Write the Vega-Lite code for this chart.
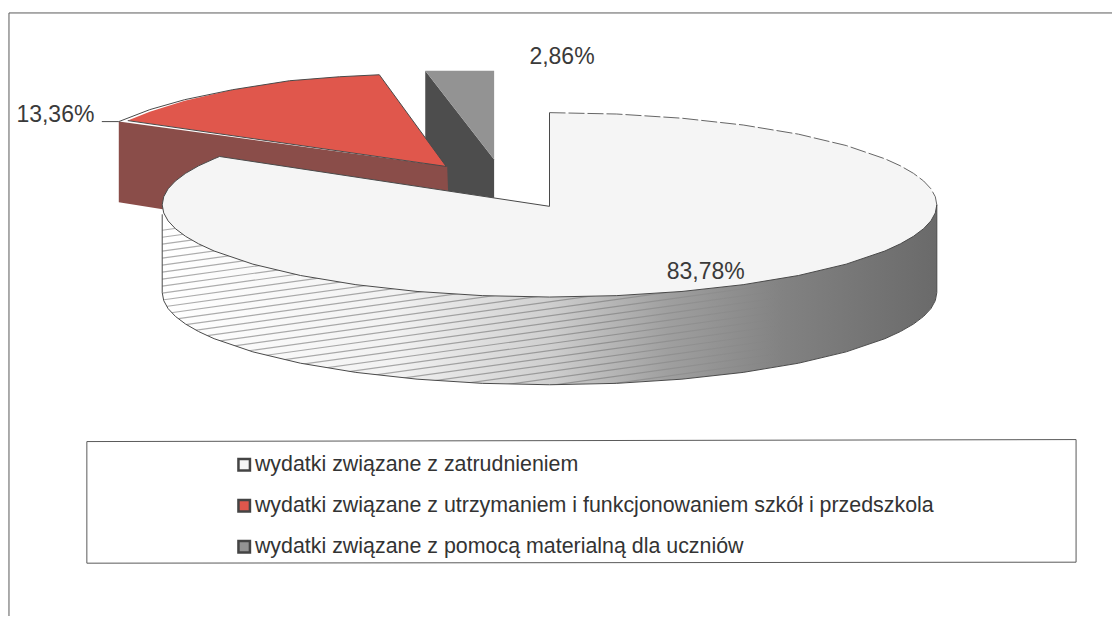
{
"$schema":"https://vega.github.io/schema/vega-lite/v6.json",
"width":1114,"height":618,
"autosize":{"type":"fit","contains":"padding"},
"padding":0,
"background":"#ffffff",
"config":{"view":{"stroke":null}},
"datasets":{
"walls":[
{"part":"graywall","seq":1,"x":426,"y":71},{"part":"graywall","seq":2,"x":495,"y":160},{"part":"graywall","seq":3,"x":495,"y":199},{"part":"graywall","seq":4,"x":426,"y":195},
{"part":"redwall","seq":1,"x":119,"y":122},{"part":"redwall","seq":2,"x":448,"y":167},{"part":"redwall","seq":3,"x":449,"y":195},{"part":"redwall","seq":4,"x":300,"y":195},{"part":"redwall","seq":5,"x":163,"y":210},{"part":"redwall","seq":6,"x":119,"y":203},
{"part":"bigwall","seq":1,"x":162.5,"y":205.5},{"part":"bigwall","seq":2,"x":938.5,"y":205.5},{"part":"bigwall","seq":3,"x":938.5,"y":293.5},{"part":"bigwall","seq":3.5,"x":937,"y":301.6},{"part":"bigwall","seq":4,"x":932.6,"y":309.6},{"part":"bigwall","seq":4.5,"x":925.3,"y":317.4},{"part":"bigwall","seq":5,"x":915.1,"y":325.1},{"part":"bigwall","seq":5.5,"x":902.1,"y":332.6},{"part":"bigwall","seq":6,"x":886.5,"y":339.8},{"part":"bigwall","seq":7,"x":847.7,"y":353},{"part":"bigwall","seq":8,"x":799.9,"y":364.4},{"part":"bigwall","seq":9,"x":744.5,"y":373.6},{"part":"bigwall","seq":10,"x":683.2,"y":380.4},{"part":"bigwall","seq":11,"x":617.9,"y":384.6},{"part":"bigwall","seq":12,"x":550.5,"y":386},{"part":"bigwall","seq":13,"x":483.1,"y":384.6},{"part":"bigwall","seq":14,"x":417.8,"y":380.4},{"part":"bigwall","seq":15,"x":356.5,"y":373.6},{"part":"bigwall","seq":16,"x":301.1,"y":364.4},{"part":"bigwall","seq":17,"x":253.3,"y":353},{"part":"bigwall","seq":18,"x":214.5,"y":339.8},{"part":"bigwall","seq":18.5,"x":198.9,"y":332.6},{"part":"bigwall","seq":19,"x":185.9,"y":325.1},{"part":"bigwall","seq":19.5,"x":175.7,"y":317.4},{"part":"bigwall","seq":20,"x":168.4,"y":309.6},{"part":"bigwall","seq":20.5,"x":164,"y":301.6},{"part":"bigwall","seq":21,"x":162.5,"y":293.5}
],
"mask":[
{"seq":1,"x":938.5,"y":293.5},{"seq":1.5,"x":937,"y":301.6},{"seq":2,"x":932.6,"y":309.6},{"seq":2.5,"x":925.3,"y":317.4},{"seq":3,"x":915.1,"y":325.1},{"seq":3.5,"x":902.1,"y":332.6},{"seq":4,"x":886.5,"y":339.8},{"seq":5,"x":847.7,"y":353},{"seq":6,"x":799.9,"y":364.4},{"seq":7,"x":744.5,"y":373.6},{"seq":8,"x":683.2,"y":380.4},{"seq":9,"x":617.9,"y":384.6},{"seq":10,"x":550.5,"y":386},{"seq":11,"x":483.1,"y":384.6},{"seq":12,"x":417.8,"y":380.4},{"seq":13,"x":356.5,"y":373.6},{"seq":14,"x":301.1,"y":364.4},{"seq":15,"x":253.3,"y":353},{"seq":16,"x":214.5,"y":339.8},{"seq":16.5,"x":198.9,"y":332.6},{"seq":17,"x":185.9,"y":325.1},{"seq":17.5,"x":175.7,"y":317.4},{"seq":18,"x":168.4,"y":309.6},{"seq":18.5,"x":164,"y":301.6},{"seq":19,"x":162.5,"y":293.5},{"seq":20,"x":160,"y":293.5},{"seq":21,"x":160,"y":470},{"seq":22,"x":940,"y":470},{"seq":23,"x":940,"y":293.5}
],
"notch":[
{"seq":1,"x":150,"y":60},{"seq":2,"x":550.5,"y":60},{"seq":3,"x":550.5,"y":207},{"seq":4,"x":220,"y":157},{"seq":5,"x":150,"y":200}
],
"stripes":[
{"x":162.5,"x2":800,"y":231,"y2":142},{"x":162.5,"x2":800,"y":238,"y2":149},{"x":162.5,"x2":800,"y":245,"y2":156},{"x":162.5,"x2":800,"y":252,"y2":163},{"x":162.5,"x2":800,"y":259,"y2":170},{"x":162.5,"x2":800,"y":266,"y2":177},{"x":162.5,"x2":800,"y":273,"y2":184},{"x":162.5,"x2":800,"y":280,"y2":191},{"x":162.5,"x2":800,"y":287,"y2":198},{"x":162.5,"x2":800,"y":294,"y2":205},{"x":162.5,"x2":800,"y":301,"y2":212},{"x":162.5,"x2":800,"y":308,"y2":219},{"x":162.5,"x2":800,"y":315,"y2":226},{"x":162.5,"x2":800,"y":322,"y2":233},{"x":162.5,"x2":800,"y":329,"y2":240},{"x":162.5,"x2":800,"y":336,"y2":247},{"x":162.5,"x2":800,"y":343,"y2":254},{"x":162.5,"x2":800,"y":350,"y2":261},{"x":162.5,"x2":800,"y":357,"y2":268},{"x":162.5,"x2":800,"y":364,"y2":275},{"x":162.5,"x2":800,"y":371,"y2":282},{"x":162.5,"x2":800,"y":378,"y2":289},{"x":162.5,"x2":800,"y":385,"y2":296},{"x":162.5,"x2":800,"y":392,"y2":303},{"x":162.5,"x2":800,"y":399,"y2":310},{"x":162.5,"x2":800,"y":406,"y2":317},{"x":162.5,"x2":800,"y":413,"y2":324},{"x":162.5,"x2":800,"y":420,"y2":331},{"x":162.5,"x2":800,"y":427,"y2":338},{"x":162.5,"x2":800,"y":434,"y2":345},{"x":162.5,"x2":800,"y":441,"y2":352},{"x":162.5,"x2":800,"y":448,"y2":359},{"x":162.5,"x2":800,"y":455,"y2":366}
],
"tops":[
{"category":"wydatki związane z zatrudnieniem","seq":1,"x":550.5,"y":207},{"category":"wydatki związane z zatrudnieniem","seq":2,"x":550.5,"y":113},{"category":"wydatki związane z zatrudnieniem","seq":3,"x":617.9,"y":114.4},{"category":"wydatki związane z zatrudnieniem","seq":4,"x":683.2,"y":118.6},{"category":"wydatki związane z zatrudnieniem","seq":5,"x":744.5,"y":125.4},{"category":"wydatki związane z zatrudnieniem","seq":6,"x":799.9,"y":134.6},{"category":"wydatki związane z zatrudnieniem","seq":7,"x":847.7,"y":146},{"category":"wydatki związane z zatrudnieniem","seq":8,"x":886.5,"y":159.3},{"category":"wydatki związane z zatrudnieniem","seq":8.5,"x":902.1,"y":166.4},{"category":"wydatki związane z zatrudnieniem","seq":9,"x":915.1,"y":173.9},{"category":"wydatki związane z zatrudnieniem","seq":9.5,"x":925.3,"y":181.6},{"category":"wydatki związane z zatrudnieniem","seq":10,"x":932.6,"y":189.4},{"category":"wydatki związane z zatrudnieniem","seq":10.5,"x":937,"y":197.4},{"category":"wydatki związane z zatrudnieniem","seq":11,"x":938.5,"y":205.5},{"category":"wydatki związane z zatrudnieniem","seq":11.5,"x":937,"y":213.6},{"category":"wydatki związane z zatrudnieniem","seq":12,"x":932.6,"y":221.6},{"category":"wydatki związane z zatrudnieniem","seq":12.5,"x":925.3,"y":229.4},{"category":"wydatki związane z zatrudnieniem","seq":13,"x":915.1,"y":237.1},{"category":"wydatki związane z zatrudnieniem","seq":13.5,"x":902.1,"y":244.6},{"category":"wydatki związane z zatrudnieniem","seq":14,"x":886.5,"y":251.8},{"category":"wydatki związane z zatrudnieniem","seq":15,"x":847.7,"y":265},{"category":"wydatki związane z zatrudnieniem","seq":16,"x":799.9,"y":276.4},{"category":"wydatki związane z zatrudnieniem","seq":17,"x":744.5,"y":285.6},{"category":"wydatki związane z zatrudnieniem","seq":18,"x":683.2,"y":292.4},{"category":"wydatki związane z zatrudnieniem","seq":19,"x":617.9,"y":296.6},{"category":"wydatki związane z zatrudnieniem","seq":20,"x":550.5,"y":298},{"category":"wydatki związane z zatrudnieniem","seq":21,"x":483.1,"y":296.6},{"category":"wydatki związane z zatrudnieniem","seq":22,"x":417.8,"y":292.4},{"category":"wydatki związane z zatrudnieniem","seq":23,"x":356.5,"y":285.6},{"category":"wydatki związane z zatrudnieniem","seq":24,"x":301.1,"y":276.4},{"category":"wydatki związane z zatrudnieniem","seq":25,"x":253.3,"y":265},{"category":"wydatki związane z zatrudnieniem","seq":26,"x":214.5,"y":251.8},{"category":"wydatki związane z zatrudnieniem","seq":26.5,"x":198.9,"y":244.6},{"category":"wydatki związane z zatrudnieniem","seq":27,"x":185.9,"y":237.1},{"category":"wydatki związane z zatrudnieniem","seq":27.5,"x":175.7,"y":229.4},{"category":"wydatki związane z zatrudnieniem","seq":28,"x":168.4,"y":221.6},{"category":"wydatki związane z zatrudnieniem","seq":28.5,"x":164,"y":213.6},{"category":"wydatki związane z zatrudnieniem","seq":29,"x":162.5,"y":205.5},{"category":"wydatki związane z zatrudnieniem","seq":29.5,"x":164,"y":197.4},{"category":"wydatki związane z zatrudnieniem","seq":30,"x":168.4,"y":189.4},{"category":"wydatki związane z zatrudnieniem","seq":30.5,"x":175.7,"y":181.6},{"category":"wydatki związane z zatrudnieniem","seq":31,"x":185.9,"y":173.9},{"category":"wydatki związane z zatrudnieniem","seq":31.5,"x":198.9,"y":166.4},{"category":"wydatki związane z zatrudnieniem","seq":32,"x":214.5,"y":159.3},{"category":"wydatki związane z zatrudnieniem","seq":33,"x":220,"y":157},
{"category":"wydatki związane z utrzymaniem i funkcjonowaniem szkół i przedszkola","seq":1,"x":128,"y":121},{"category":"wydatki związane z utrzymaniem i funkcjonowaniem szkół i przedszkola","seq":2,"x":150,"y":112},{"category":"wydatki związane z utrzymaniem i funkcjonowaniem szkół i przedszkola","seq":3,"x":185,"y":101},{"category":"wydatki związane z utrzymaniem i funkcjonowaniem szkół i przedszkola","seq":4,"x":233,"y":90},{"category":"wydatki związane z utrzymaniem i funkcjonowaniem szkół i przedszkola","seq":5,"x":290,"y":81},{"category":"wydatki związane z utrzymaniem i funkcjonowaniem szkół i przedszkola","seq":6,"x":340,"y":77},{"category":"wydatki związane z utrzymaniem i funkcjonowaniem szkół i przedszkola","seq":7,"x":380,"y":75},{"category":"wydatki związane z utrzymaniem i funkcjonowaniem szkół i przedszkola","seq":8,"x":447,"y":167},
{"category":"wydatki związane z pomocą materialną dla uczniów","seq":1,"x":426,"y":71},{"category":"wydatki związane z pomocą materialną dla uczniów","seq":2,"x":495,"y":71},{"category":"wydatki związane z pomocą materialną dla uczniów","seq":3,"x":495,"y":160}
],
"edges":[
{"edge":"front","seq":1,"x":938.5,"y":205.5},{"edge":"front","seq":1.5,"x":937,"y":213.6},{"edge":"front","seq":2,"x":932.6,"y":221.6},{"edge":"front","seq":2.5,"x":925.3,"y":229.4},{"edge":"front","seq":3,"x":915.1,"y":237.1},{"edge":"front","seq":3.5,"x":902.1,"y":244.6},{"edge":"front","seq":4,"x":886.5,"y":251.8},{"edge":"front","seq":5,"x":847.7,"y":265},{"edge":"front","seq":6,"x":799.9,"y":276.4},{"edge":"front","seq":7,"x":744.5,"y":285.6},{"edge":"front","seq":8,"x":683.2,"y":292.4},{"edge":"front","seq":9,"x":617.9,"y":296.6},{"edge":"front","seq":10,"x":550.5,"y":298},{"edge":"front","seq":11,"x":483.1,"y":296.6},{"edge":"front","seq":12,"x":417.8,"y":292.4},{"edge":"front","seq":13,"x":356.5,"y":285.6},{"edge":"front","seq":14,"x":301.1,"y":276.4},{"edge":"front","seq":15,"x":253.3,"y":265},{"edge":"front","seq":16,"x":214.5,"y":251.8},{"edge":"front","seq":16.5,"x":198.9,"y":244.6},{"edge":"front","seq":17,"x":185.9,"y":237.1},{"edge":"front","seq":17.5,"x":175.7,"y":229.4},{"edge":"front","seq":18,"x":168.4,"y":221.6},{"edge":"front","seq":18.5,"x":164,"y":213.6},{"edge":"front","seq":19,"x":162.5,"y":205.5},{"edge":"front","seq":20,"x":164,"y":197.4},{"edge":"front","seq":21,"x":168.4,"y":189.4},{"edge":"front","seq":22,"x":175.7,"y":181.6},{"edge":"front","seq":23,"x":185.9,"y":173.9},{"edge":"front","seq":24,"x":198.9,"y":166.4},{"edge":"front","seq":25,"x":214.5,"y":159.3},{"edge":"front","seq":26,"x":220,"y":157},
{"edge":"lower","seq":1,"x":938.5,"y":205.5},{"edge":"lower","seq":2,"x":938.5,"y":293.5},{"edge":"lower","seq":2.5,"x":937,"y":301.6},{"edge":"lower","seq":3,"x":932.6,"y":309.6},{"edge":"lower","seq":3.5,"x":925.3,"y":317.4},{"edge":"lower","seq":4,"x":915.1,"y":325.1},{"edge":"lower","seq":4.5,"x":902.1,"y":332.6},{"edge":"lower","seq":5,"x":886.5,"y":339.8},{"edge":"lower","seq":6,"x":847.7,"y":353},{"edge":"lower","seq":7,"x":799.9,"y":364.4},{"edge":"lower","seq":8,"x":744.5,"y":373.6},{"edge":"lower","seq":9,"x":683.2,"y":380.4},{"edge":"lower","seq":10,"x":617.9,"y":384.6},{"edge":"lower","seq":11,"x":550.5,"y":386},{"edge":"lower","seq":12,"x":483.1,"y":384.6},{"edge":"lower","seq":13,"x":417.8,"y":380.4},{"edge":"lower","seq":14,"x":356.5,"y":373.6},{"edge":"lower","seq":15,"x":301.1,"y":364.4},{"edge":"lower","seq":16,"x":253.3,"y":353},{"edge":"lower","seq":17,"x":214.5,"y":339.8},{"edge":"lower","seq":17.5,"x":198.9,"y":332.6},{"edge":"lower","seq":18,"x":185.9,"y":325.1},{"edge":"lower","seq":18.5,"x":175.7,"y":317.4},{"edge":"lower","seq":19,"x":168.4,"y":309.6},{"edge":"lower","seq":19.5,"x":164,"y":301.6},{"edge":"lower","seq":20,"x":162.5,"y":293.5},{"edge":"lower","seq":21,"x":162.5,"y":215},
{"edge":"radii","seq":1,"x":220,"y":157},{"edge":"radii","seq":2,"x":550.5,"y":207},{"edge":"radii","seq":3,"x":550.5,"y":113},
{"edge":"redarc","seq":1,"x":102,"y":122},{"edge":"redarc","seq":2,"x":119,"y":122},{"edge":"redarc","seq":3,"x":150,"y":110},{"edge":"redarc","seq":4,"x":185,"y":100},{"edge":"redarc","seq":5,"x":233,"y":90},{"edge":"redarc","seq":6,"x":290,"y":81},{"edge":"redarc","seq":7,"x":340,"y":77},{"edge":"redarc","seq":8,"x":380,"y":75},{"edge":"redarc","seq":9,"x":447,"y":167},{"edge":"redarc","seq":10,"x":128,"y":121},
{"edge":"frame","seq":1,"x":9,"y":618},{"edge":"frame","seq":2,"x":9,"y":13},{"edge":"frame","seq":3,"x":1114,"y":13},
{"edge":"box","seq":1,"x":87,"y":443},{"edge":"box","seq":2,"x":1078,"y":441},{"edge":"box","seq":3,"x":1078,"y":564},{"edge":"box","seq":4,"x":87,"y":565},{"edge":"box","seq":5,"x":87,"y":443}
],
"back":[
{"seq":1,"x":550.5,"y":113},{"seq":2,"x":617.9,"y":114.4},{"seq":3,"x":683.2,"y":118.6},{"seq":4,"x":744.5,"y":125.4},{"seq":5,"x":799.9,"y":134.6},{"seq":6,"x":847.7,"y":146},{"seq":7,"x":886.5,"y":159.3},{"seq":7.5,"x":902.1,"y":166.4},{"seq":8,"x":915.1,"y":173.9},{"seq":8.5,"x":925.3,"y":181.6},{"seq":9,"x":932.6,"y":189.4},{"seq":9.5,"x":937,"y":197.4},{"seq":10,"x":938.5,"y":205.5}
],
"labels":[
{"label":"83,78%","x":707,"y":273},{"label":"13,36%","x":55.5,"y":115},{"label":"2,86%","x":563,"y":57}
]
},
"encoding":{
"x":{"field":"x","type":"quantitative","scale":{"domain":[0,1114],"nice":false,"zero":false},"axis":null},
"y":{"field":"y","type":"quantitative","scale":{"domain":[618,0],"nice":false,"zero":false},"axis":null}
},
"layer":[
{"data":{"name":"walls"},"transform":[{"filter":"datum.part=='bigwall'"}],"mark":{"type":"line","strokeWidth":0,"fill":{"gradient":"linear","x1":0,"x2":1,"y1":0,"y2":0,"stops":[{"offset":0,"color":"#ffffff"},{"offset":0.3,"color":"#f2f2f2"},{"offset":0.5,"color":"#cfcfcf"},{"offset":0.65,"color":"#a0a0a0"},{"offset":0.8,"color":"#828282"},{"offset":1,"color":"#6a6a6a"}]}},"encoding":{"order":{"field":"seq"}}},
{"data":{"name":"stripes"},"mark":{"type":"rule","strokeWidth":1.2,"opacity":0.7,"stroke":{"gradient":"linear","x1":0,"x2":1,"y1":0,"y2":0,"stops":[{"offset":0,"color":"#8a8a8a"},{"offset":0.7,"color":"#808080"},{"offset":1,"color":"rgba(128,128,128,0)"}]}},"encoding":{"x2":{"field":"x2"},"y2":{"field":"y2"}}},
{"data":{"name":"mask"},"mark":{"type":"line","fill":"#ffffff","strokeWidth":0},"encoding":{"order":{"field":"seq"}}},
{"data":{"name":"notch"},"mark":{"type":"line","fill":"#ffffff","strokeWidth":0},"encoding":{"order":{"field":"seq"}}},
{"data":{"name":"walls"},"transform":[{"filter":"datum.part=='graywall'"}],"mark":{"type":"line","fill":"#4d4d4d","strokeWidth":0},"encoding":{"order":{"field":"seq"}}},
{"data":{"name":"walls"},"transform":[{"filter":"datum.part=='redwall'"}],"mark":{"type":"line","fill":"#8a4d49","strokeWidth":0},"encoding":{"order":{"field":"seq"}}},
{"data":{"name":"tops"},"mark":{"type":"line","strokeWidth":0},"encoding":{"order":{"field":"seq"},"fill":{"field":"category","type":"nominal","scale":{"domain":["wydatki związane z zatrudnieniem","wydatki związane z utrzymaniem i funkcjonowaniem szkół i przedszkola","wydatki związane z pomocą materialną dla uczniów"],"range":["#f5f5f5","#e0574c","#939393"]},"legend":{"title":null,"orient":"none","legendX":233.5,"legendY":454,"symbolType":"square","symbolSize":132,"symbolStrokeColor":"#444444","symbolStrokeWidth":2.5,"symbolOpacity":1,"labelFont":"Liberation Sans","labelFontSize":21.4,"labelColor":"#333333","labelLimit":800,"rowPadding":18,"labelOffset":0,"padding":0}}}},
{"data":{"name":"back"},"mark":{"type":"line","stroke":"#666666","strokeWidth":1,"strokeDash":[16,3]},"encoding":{"order":{"field":"seq"}}},
{"data":{"name":"edges"},"transform":[{"filter":"datum.edge!='frame'&&datum.edge!='box'"}],"mark":{"type":"line","stroke":"#4a4a4a","strokeWidth":1},"encoding":{"order":{"field":"seq"},"detail":{"field":"edge"}}},
{"data":{"name":"edges"},"transform":[{"filter":"datum.edge=='frame'||datum.edge=='box'"}],"mark":{"type":"line","stroke":"#5a5a5a","strokeWidth":1},"encoding":{"order":{"field":"seq"},"detail":{"field":"edge"}}},
{"data":{"name":"labels"},"mark":{"type":"text","font":"Liberation Sans","fontSize":23,"fill":"#3a3a3a","align":"center","baseline":"middle"},"encoding":{"text":{"field":"label"}}}
]
}
